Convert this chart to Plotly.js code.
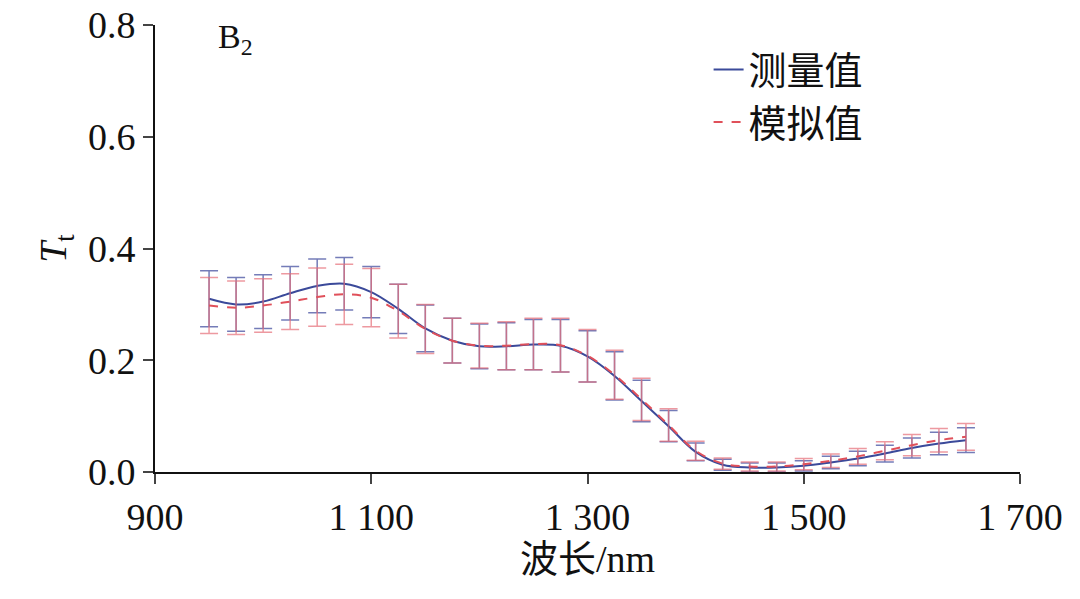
<!DOCTYPE html>
<html><head><meta charset="utf-8">
<script src="https://cdn.plot.ly/plotly-3.0.1.min.js"></script>
<style>body{margin:0}#graph{width:1080px;height:599px}</style>
</head><body><div id="graph"></div>
<script>
const wavelength = [950,975,1000,1025,1050,1075,1100,1125,1150,1175,1200,1225,1250,1275,1300,1325,1350,1375,1400,1425,1450,1475,1500,1525,1550,1575,1600,1625,1650];
const measured = [0.310,0.300,0.305,0.320,0.333,0.337,0.322,0.292,0.257,0.235,0.225,0.225,0.228,0.226,0.207,0.172,0.127,0.082,0.036,0.013,0.008,0.008,0.011,0.017,0.024,0.033,0.043,0.051,0.057];
const measuredErr = [0.050,0.048,0.048,0.048,0.048,0.047,0.046,0.044,0.042,0.040,0.040,0.042,0.045,0.047,0.046,0.043,0.037,0.028,0.016,0.010,0.008,0.008,0.009,0.011,0.013,0.015,0.018,0.020,0.022];
const simulated = [0.298,0.294,0.298,0.305,0.313,0.318,0.312,0.288,0.256,0.235,0.226,0.226,0.229,0.227,0.208,0.174,0.130,0.084,0.038,0.015,0.010,0.010,0.014,0.020,0.028,0.038,0.048,0.057,0.063];
const simulatedErr = [0.050,0.048,0.048,0.050,0.052,0.054,0.052,0.048,0.044,0.040,0.040,0.043,0.046,0.048,0.047,0.044,0.038,0.029,0.017,0.010,0.008,0.008,0.010,0.012,0.014,0.016,0.019,0.021,0.024];

const serif = "Liberation Serif, Times New Roman, serif";
const cjk = "Liberation Serif, Noto Sans CJK SC, serif";

let traces = [
  {
    type: "scatter", mode: "lines", name: "测量值",
    x: wavelength, y: measured,
    line: {color: "#3b4a9a", width: 2, shape: "spline"},
    error_y: {type: "data", array: measuredErr, visible: true, color: "rgba(70,80,160,0.75)", thickness: 1.5, width: 9},
  },
  {
    type: "scatter", mode: "lines", name: "模拟值",
    x: wavelength, y: simulated,
    line: {color: "#e0505a", width: 2, dash: "dash", shape: "spline"},
    error_y: {type: "data", array: simulatedErr, visible: true, color: "rgba(230,110,120,0.7)", thickness: 1.5, width: 9},
  },
];

let layout = {
  width: 1080, height: 599,
  margin: {l: 155, r: 60, t: 25, b: 127},
  paper_bgcolor: "#ffffff", plot_bgcolor: "#ffffff",
  font: {family: serif, size: 38, color: "#111"},
  showlegend: true,
  legend: {x: 0.64, y: 0.97, xanchor: "left", yanchor: "top", font: {family: cjk, size: 38}, bgcolor: "rgba(0,0,0,0)"},
  xaxis: {
    range: [900, 1700], tickvals: [900,1100,1300,1500,1700],
    ticktext: ["900","1 100","1 300","1 500","1 700"],
    showline: true, linecolor: "#111", linewidth: 2, ticks: "outside", ticklen: 10, tickwidth: 2,
    showgrid: false, zeroline: false,
    title: {text: "波长/nm", font: {family: cjk, size: 38}, standoff: 8},
  },
  yaxis: {
    range: [0, 0.8], tickvals: [0,0.2,0.4,0.6,0.8], tickformat: ".1f",
    showline: true, linecolor: "#111", linewidth: 2, ticks: "outside", ticklen: 10, tickwidth: 2,
    showgrid: false, zeroline: false,
    title: {text: "<i>T</i><sub>t</sub>", font: {family: serif, size: 38}, standoff: 10},
  },
  annotations: [
    {xref: "paper", yref: "paper", x: 0.07, y: 1.02, xanchor: "left", yanchor: "top",
     text: "B<sub>2</sub>", showarrow: false, font: {family: serif, size: 34}},
  ],
};

Plotly.newPlot("graph", traces, layout, {displayModeBar: false});
</script></body></html>
